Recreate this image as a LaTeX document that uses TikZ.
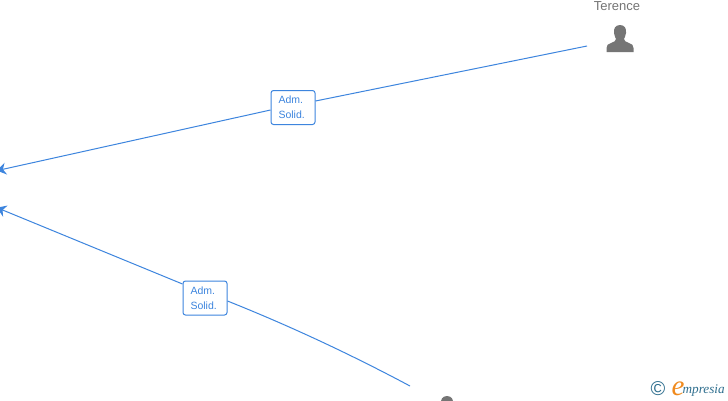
\documentclass[tikz,border=0pt]{standalone}
\usepackage{fontspec}
\setmainfont{Liberation Sans}
\newfontfamily\logofont{Liberation Serif}
\usetikzlibrary{arrows.meta}
\definecolor{linkblue}{HTML}{3D85DE}
\definecolor{persongray}{HTML}{757575}
\definecolor{logoteal}{HTML}{2F6F8F}
\definecolor{logoorange}{HTML}{F08A1D}
\tikzset{
  x=1pt,y=-1pt,
  link/.style={draw=linkblue,line width=1pt},
  linkarrow/.style={link,-{Stealth[length=9pt,width=12pt,inset=3pt]}},
  rolebox/.style={draw=linkblue,fill=white,rounded corners=2.5pt,line width=1pt,minimum width=44pt,minimum height=34pt,inner sep=0pt,text width=29pt,align=left,text=linkblue,font=\fontsize{10.5}{15}\selectfont},
  personname/.style={text=persongray,font=\fontsize{13}{14}\selectfont,inner sep=0pt},
  pics/person/.style={code={
    \fill[persongray] (0,-14) .. controls (-5,-14) and (-6.5,-10) .. (-6,-6)
      .. controls (-5.7,-3) and (-4.5,-1.5) .. (-4,0)
      .. controls (-4,2) and (-6,3) .. (-9,4)
      .. controls (-12,5) and (-13.5,6) .. (-13.5,9) -- (-13.5,13) -- (13.5,13) -- (13.5,9)
      .. controls (13.5,6) and (12,5) .. (9,4)
      .. controls (6,3) and (4,2) .. (4,0)
      .. controls (4.5,-1.5) and (5.7,-3) .. (6,-6)
      .. controls (6.5,-10) and (5,-14) .. (0,-14) -- cycle;
  }}
}
\begin{document}
\begin{tikzpicture}
\useasboundingbox (0,0) rectangle (728,400);
\clip (0,0) rectangle (728,400);
\fill[white] (0,0) rectangle (728,400);
\node[personname] (terence) at (617,6.5) {Terence};
\pic at (620,39) {person};
\pic at (447,410) {person};
\coordinate (terenceEnd) at (587,46);
\coordinate (lowerEnd) at (410,386);
\coordinate (targetA) at (-3,170.6);
\coordinate (targetB) at (-3,207.7);
\node[rolebox] (boxA) at (293,107.5) {Adm.\\Solid.};
\node[rolebox] (boxB) at (205,298) {Adm.\\Solid.};
\draw[link] (terenceEnd) -- (boxA.east |- 0,101);
\draw[linkarrow] (boxA.west |- 0,110) -- (targetA);
\draw[link] (lowerEnd) .. controls (350,354) and (290,326) .. (boxB.east |- 0,301);
\draw[linkarrow] (boxB.west |- 0,284) -- (targetB);
\node[inner sep=0pt,text=logoteal,font=\fontsize{20}{20}\selectfont] (copy) at (658,388.5) {©};
\node[anchor=base west,inner sep=0pt,text=logoorange,font=\logofont\itshape\fontsize{29}{29}\selectfont] (logoe) at (671.5,395) {e};
\node[anchor=base west,inner sep=0pt,text=logoteal,font=\logofont\itshape\fontsize{13.2}{14}\selectfont] (logotext) at (682.5,393) {mpresia};
\end{tikzpicture}
\end{document}
